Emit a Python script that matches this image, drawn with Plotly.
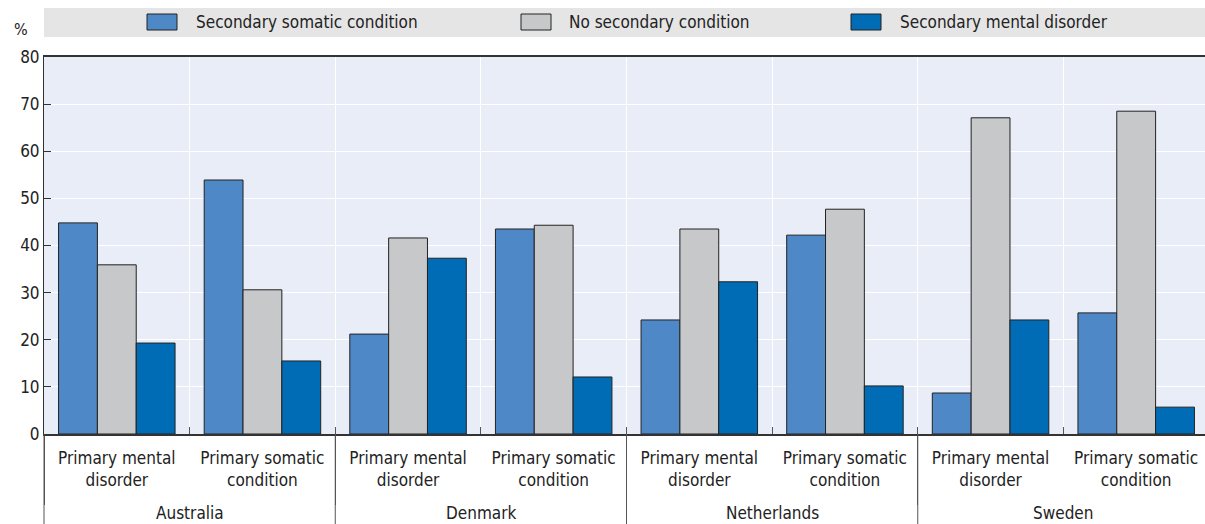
import plotly.graph_objects as go

countries = ["Australia", "Denmark", "Netherlands", "Sweden"]
primaries = ["Primary mental<br>disorder", "Primary somatic<br>condition"]

series_names = ["Secondary somatic condition", "No secondary condition", "Secondary mental disorder"]
secondary_somatic = [44.8, 53.9, 21.2, 43.5, 24.2, 42.2, 8.7, 25.7]
no_secondary = [35.9, 30.6, 41.6, 44.3, 43.5, 47.7, 67.1, 68.5]
secondary_mental = [19.3, 15.5, 37.3, 12.1, 32.3, 10.2, 24.2, 5.7]

colors = ["#4E88C7", "#C7C8CA", "#006CB6"]
FONT = "Liberation Sans Narrow, DejaVu Sans Condensed, Arial Narrow, sans-serif"

# outer group keys (country names are drawn as annotations below, for placement)
group_keys = [" " * (i + 1) for i in range(len(countries))]
x_outer = [g for g in group_keys for _ in primaries]
x_inner = [p for _ in countries for p in primaries]

fig = go.Figure()
for name, vals, col in zip(series_names, [secondary_somatic, no_secondary, secondary_mental], colors):
    fig.add_trace(go.Bar(
        x=[x_outer, x_inner], y=vals, name=name,
        marker=dict(color=col, line=dict(color="#222222", width=1)),
        showlegend=False,
    ))

W, H = 1210, 524
ml, mr, mt, mb = 44, 1, 57, 90
pw = W - ml - mr
ph = H - mt - mb

def px_x(x):
    return (x - ml) / pw

def px_y(y):
    return (H - mb - y) / ph

shapes = [dict(type="rect", xref="paper", yref="paper", x0=0, x1=1,
               y0=px_y(37), y1=px_y(8), fillcolor="#E5E5E5", line=dict(width=0), layer="below")]
annotations = [dict(text="%", xref="paper", yref="paper", x=px_x(21), y=px_y(30),
                    xanchor="center", yanchor="middle",
                    showarrow=False, font=dict(size=16, color="#222222", family=FONT))]
legend_pos = [(147, 194), (521, 567), (851, 898)]
for (sx, tx), name, col in zip(legend_pos, series_names, colors):
    shapes.append(dict(type="rect", xref="paper", yref="paper", x0=px_x(sx), x1=px_x(sx + 30),
                       y0=px_y(30), y1=px_y(14), fillcolor=col, line=dict(color="#222222", width=1)))
    annotations.append(dict(text=name, xref="paper", yref="paper", x=px_x(tx), y=px_y(22),
                            xanchor="left", yanchor="middle", showarrow=False,
                            font=dict(size=17, color="#222222", family=FONT)))
n = len(countries)
for k in range(n + 1):
    xp = k / n
    shapes.append(dict(type="line", xref="paper", yref="paper", x0=xp, x1=xp,
                       y0=0, y1=px_y(H), line=dict(color="#555555", width=1)))
for k, c in enumerate(countries):
    annotations.append(dict(text=c, xref="paper", yref="paper", x=(k + 0.5) / n, y=px_y(513),
                            xanchor="center", yanchor="middle", showarrow=False,
                            font=dict(size=17, color="#222222", family=FONT)))

fig.update_layout(
    width=W, height=H,
    margin=dict(l=ml, r=mr, t=mt, b=mb),
    paper_bgcolor="white", plot_bgcolor="#E9EDF7",
    barmode="group", bargap=0.2, bargroupgap=0,
    font=dict(family=FONT, size=17, color="#222222"),
    shapes=shapes, annotations=annotations,
    xaxis=dict(type="multicategory", showline=True, linecolor="#333333", linewidth=1.5, mirror=True,
               showgrid=True, gridcolor="white", gridwidth=1, tickson="boundaries",
               ticks="inside", ticklen=7, tickcolor="#555555", ticklabelstandoff=8,
               showdividers=True, dividercolor="#555555", dividerwidth=1,
               tickfont=dict(size=17, color="#222222")),
    yaxis=dict(range=[0, 80], dtick=10, showline=True, linecolor="#333333", linewidth=1,
               showgrid=True, gridcolor="white", gridwidth=1, ticks="inside", ticklen=7,
               tickcolor="#333333", zeroline=False, tickfont=dict(size=17, color="#222222")),
)

fig.write_html("out.html",
               post_script="document.body.style.margin='0px';document.body.style.overflow='hidden';",
               config={"displayModeBar": False})
